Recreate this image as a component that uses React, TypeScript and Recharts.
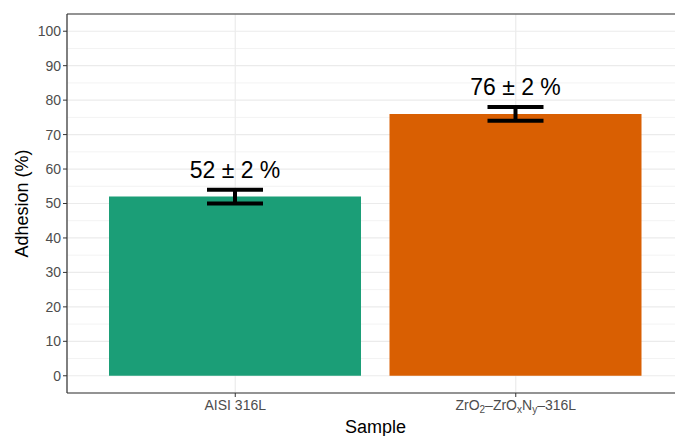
import React from 'react';
import { BarChart, Bar, XAxis, YAxis, CartesianGrid, ErrorBar, LabelList, ReferenceLine, Cell, Label } from 'recharts';

const samples = ['AISI 316L', 'ZrO2-ZrOxNy-316L'];
const adhesion = [52, 76];
const adhesionSd = [2, 2];
const barColors = ['#1b9e77', '#d95f02'];
const yDomain = [-5, 105];
const yTicks = [0, 10, 20, 30, 40, 50, 60, 70, 80, 90, 100];
const yMinor = [5, 15, 25, 35, 45, 55, 65, 75, 85, 95];

const data = samples.map((s, i) => ({ sample: s, adhesion: adhesion[i], sd: adhesionSd[i] }));

const font = '"Liberation Sans", Arial, Helvetica, sans-serif';

// second sample name has subscripts, so it's drawn with tspans
function SampleTick(props: any) {
  const { x, y, payload } = props;
  const sub = { fontSize: 10, dy: 3 };
  if (payload.value === samples[1]) {
    return (
      <text x={x} y={y + 11} textAnchor="middle" fontSize={14} fill="#4d4d4d" fontFamily={font}>
        <tspan>ZrO</tspan>
        <tspan {...sub}>2</tspan>
        <tspan dy={-3}>–ZrO</tspan>
        <tspan {...sub}>x</tspan>
        <tspan dy={-3}>N</tspan>
        <tspan {...sub}>y</tspan>
        <tspan dy={-3}>–316L</tspan>
      </text>
    );
  }
  return (
    <text x={x} y={y + 11} textAnchor="middle" fontSize={14} fill="#4d4d4d" fontFamily={font}>
      {payload.value}
    </text>
  );
}

const renderValueLabel = (props: any) => {
  const { x, y, width, height, index } = props;
  const v = adhesion[index];
  const e = adhesionSd[index];
  const pxPerUnit = height / v;
  const top = y - e * pxPerUnit;
  return (
    <text x={x + width / 2} y={top - 12} textAnchor="middle" fontSize={23} fill="#000" fontFamily={font}>
      {`${v} ± ${e} %`}
    </text>
  );
};

// minor gridlines, placed from the y domain and the plot offset
const minorLines = ({ offset }: any) =>
  yMinor.map((v) => offset.top + ((yDomain[1] - v) / (yDomain[1] - yDomain[0])) * offset.height);

export default function App() {
  return (
    <div style={{ position: 'absolute', left: 0, top: 0, width: 675, height: 436, overflow: 'hidden', background: '#fff' }}>
      <BarChart width={700} height={436} data={data} margin={{ top: 14, right: 16, bottom: 0, left: 0 }}>
        <CartesianGrid stroke="#f3f3f3" strokeWidth={1} vertical={false} horizontalCoordinatesGenerator={minorLines} />
        <CartesianGrid stroke="#ebebeb" strokeWidth={1.2} />
        <XAxis
          dataKey="sample"
          height={43}
          padding={{ left: 28, right: 28 }}
          tick={<SampleTick />}
          tickSize={4}
          axisLine={{ stroke: '#333', strokeWidth: 1.2 }}
          tickLine={{ stroke: '#333' }}
          interval={0}
        >
          <Label
            content={(p: any) => (
              <text x={p.viewBox.x + p.viewBox.width / 2} y={p.viewBox.y + 40} textAnchor="middle" fontSize={18} fill="#000" fontFamily={font}>
                Sample
              </text>
            )}
          />
        </XAxis>
        <YAxis
          width={67}
          domain={yDomain}
          ticks={yTicks}
          allowDataOverflow
          tickSize={4}
          tickMargin={2}
          tick={{ fontSize: 14, fill: '#4d4d4d', fontFamily: font }}
          axisLine={{ stroke: '#333', strokeWidth: 1.2 }}
          tickLine={{ stroke: '#333' }}
        >
          <Label
            content={(p: any) => (
              <text
                x={22}
                y={p.viewBox.y + p.viewBox.height / 2}
                transform={`rotate(-90 22 ${p.viewBox.y + p.viewBox.height / 2})`}
                textAnchor="middle"
                dominantBaseline="central"
                fontSize={18}
                fill="#000"
                fontFamily={font}
              >
                Adhesion (%)
              </text>
            )}
          />
        </YAxis>
        <Bar dataKey="adhesion" barSize={252} isAnimationActive={false}>
          {data.map((d, i) => (
            <Cell key={d.sample} fill={barColors[i]} />
          ))}
          <ErrorBar dataKey="sd" width={28} strokeWidth={4} stroke="#000" direction="y" />
          <LabelList dataKey="adhesion" content={renderValueLabel} />
        </Bar>
        <ReferenceLine y={yDomain[1]} stroke="#333" strokeWidth={1.2} />
      </BarChart>
    </div>
  );
}
